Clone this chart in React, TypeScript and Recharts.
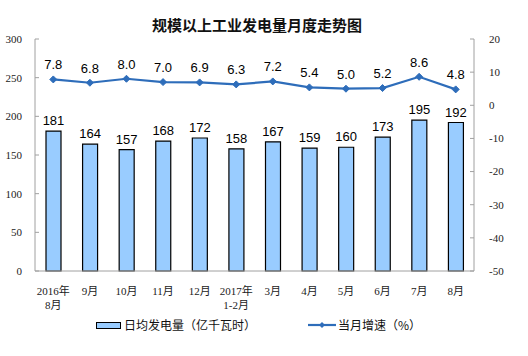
import React from 'react';
import { ComposedChart, Bar, Line, XAxis, YAxis, LabelList } from 'recharts';

const categories = ['2016年\n8月', '9月', '10月', '11月', '12月', '2017年\n1-2月', '3月', '4月', '5月', '6月', '7月', '8月'];
const dailyOutput = [181, 164, 157, 168, 172, 158, 167, 159, 160, 173, 195, 192];
const growthRate = [7.8, 6.8, 8.0, 7.0, 6.9, 6.3, 7.2, 5.4, 5.0, 5.2, 8.6, 4.8];
const leftTicks = [0, 50, 100, 150, 200, 250, 300];
const rightTicks = [-50, -40, -30, -20, -10, 0, 10, 20];

const data = categories.map((c, i) => ({ name: c, output: dailyOutput[i], growth: growthRate[i] }));

const SERIF = '"Liberation Serif", "Times New Roman", "Noto Sans CJK SC", serif';
const SANS = '"Liberation Sans", Arial, "Noto Sans CJK SC", sans-serif';
const CJK = '"Noto Sans CJK SC", "Liberation Sans", sans-serif';
const LINE_COLOR = '#2E6DBA';
const BAR_FILL = '#99CCFF';

const XTick = (props: any) => {
  const { x, y, payload } = props;
  const lines = String(payload.value).split('\n');
  return (
    <g>
      {lines.map((l: string, i: number) => (
        <text key={i} x={x} y={y + 16 + i * 14} textAnchor="middle" fontSize={11} fontFamily={SERIF} fill="#222">
          {l}
        </text>
      ))}
    </g>
  );
};

const Diamond = (props: any) => {
  const { cx, cy } = props;
  if (cx == null || cy == null) return null;
  const s = 3.5;
  return <polygon points={`${cx},${cy - s} ${cx + s},${cy} ${cx},${cy + s} ${cx - s},${cy}`} fill={LINE_COLOR} stroke={LINE_COLOR} />;
};

export default function App() {
  return (
    <div style={{ position: 'absolute', left: 0, top: 0, width: 528, height: 356, background: '#fff' }}>
      <div
        style={{
          position: 'absolute',
          top: 13,
          left: 0,
          width: 514,
          textAlign: 'center',
          fontFamily: CJK,
          fontSize: 15,
          fontWeight: 'bold',
          color: '#111',
          lineHeight: '24px',
        }}
      >
        规模以上工业发电量月度走势图
      </div>
      <ComposedChart width={528} height={356} data={data} margin={{ top: 39, right: 0, left: 0, bottom: 45 }} barCategoryGap={0}>
        <XAxis
          dataKey="name"
          xAxisId="x"
          height={40}
          tickLine={false}
          axisLine={{ stroke: '#A0A0A0' }}
          tick={<XTick />}
          interval={0}
        />
        <YAxis
          yAxisId="left"
          orientation="left"
          width={35}
          domain={[0, 300]}
          ticks={leftTicks}
          tickSize={-4}
          tickMargin={17}
          axisLine={{ stroke: '#A0A0A0' }}
          tickLine={{ stroke: '#A0A0A0' }}
          tick={{ fontSize: 11, fontFamily: SERIF, fill: '#222' }}
          interval={0}
        />
        <YAxis
          yAxisId="right"
          orientation="right"
          width={54}
          domain={[-50, 20]}
          ticks={rightTicks}
          tickSize={-4}
          tickMargin={19}
          axisLine={{ stroke: '#A0A0A0' }}
          tickLine={{ stroke: '#A0A0A0' }}
          tick={{ fontSize: 11, fontFamily: SERIF, fill: '#222', textAnchor: 'start' }}
          interval={0}
        />
        <Bar dataKey="output" xAxisId="x" yAxisId="left" fill={BAR_FILL} stroke="#000" strokeWidth={1.2} barSize={15} isAnimationActive={false}>
          <LabelList dataKey="output" position="top" offset={6} fill="#000" fontSize={13} fontFamily={SANS} />
        </Bar>
        <Line
          dataKey="growth"
          xAxisId="x"
          yAxisId="right"
          stroke={LINE_COLOR}
          strokeWidth={2.2}
          dot={<Diamond />}
          activeDot={false}
          isAnimationActive={false}
        >
          <LabelList dataKey="growth" position="top" offset={10} fill="#000" fontSize={13} fontFamily={SANS} formatter={(v: any) => Number(v).toFixed(1)} />
        </Line>
      </ComposedChart>
      <div style={{ position: 'absolute', top: 316, left: 0, width: 528, height: 20, fontFamily: CJK, fontSize: 12, color: '#111' }}>
        <div style={{ position: 'absolute', left: 96, top: 6, width: 23, height: 5, background: BAR_FILL, border: '1px solid #000' }} />
        <div style={{ position: 'absolute', left: 124, top: 0, lineHeight: '18px' }}>日均发电量（亿千瓦时）</div>
        <svg style={{ position: 'absolute', left: 308, top: 4 }} width={28} height={10}>
          <line x1={0} y1={5} x2={28} y2={5} stroke={LINE_COLOR} strokeWidth={2.2} />
          <polygon points="14,2 17,5 14,8 11,5" fill={LINE_COLOR} />
        </svg>
        <div style={{ position: 'absolute', left: 338, top: 0, lineHeight: '18px' }}>当月增速（%）</div>
      </div>
    </div>
  );
}
